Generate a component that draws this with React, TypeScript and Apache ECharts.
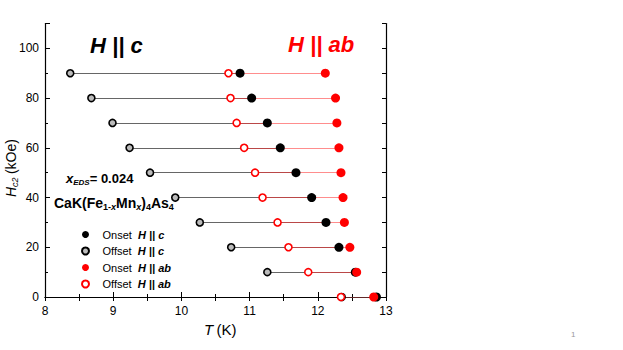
import React, { useEffect, useRef } from "react";
import * as echarts from "echarts";

const fields = [90, 80, 70, 60, 50, 40, 30, 20, 10, 0];
const offsetC = [8.37, 8.68, 8.99, 9.24, 9.54, 9.91, 10.27, 10.73, 11.26, 12.35];
const onsetC = [10.86, 11.03, 11.26, 11.45, 11.68, 11.91, 12.12, 12.31, 12.55, 12.86];
const offsetAB = [10.69, 10.72, 10.81, 10.92, 11.08, 11.19, 11.41, 11.57, 11.86, 12.34];
const onsetAB = [12.11, 12.26, 12.28, 12.31, 12.34, 12.37, 12.39, 12.47, 12.57, 12.82];
const xTicks = [8, 9, 10, 11, 12, 13];
const yTicks = [0, 20, 40, 60, 80, 100];

const FONT = "Liberation Sans, Arial, sans-serif";

export default function App() {
  const ref = useRef<HTMLDivElement>(null);
  useEffect(() => {
    if (!ref.current) return;
    const chart = echarts.init(ref.current, null, { renderer: "svg" });
    const pts = (xs: number[]) => xs.map((x, i) => [x, fields[i]]);
    const segs = (a: number[], b: number[]) =>
      fields.map((h, i) => ({ coords: [[a[i], h], [b[i], h]] }));
    const legendFmt = (name: string) => {
      const [kind, pol] = name.split("|");
      return `{n|${kind}}  {i|H || ${pol}}`;
    };
    chart.setOption({
      animation: false,
      textStyle: { fontFamily: FONT },
      grid: { left: 45, right: 237, top: 23.5, bottom: 53 },
      xAxis: [
        {
          type: "value",
          min: xTicks[0],
          max: xTicks[xTicks.length - 1],
          interval: 1,
          axisLine: { lineStyle: { color: "#000", width: 1.2 } },
          axisTick: { inside: true, length: 5, lineStyle: { color: "#000" } },
          minorTick: { show: true, splitNumber: 2, length: 3, lineStyle: { color: "#000" } },
          axisLabel: { color: "#000", fontSize: 12, fontFamily: FONT, margin: 8 },
          splitLine: { show: false },
        },
        {
          type: "value",
          position: "top",
          min: 8,
          max: 13,
          interval: 0.5,
          axisLine: { show: true, lineStyle: { color: "#000", width: 1.2 } },
          axisTick: { inside: true, length: 4, lineStyle: { color: "#000" } },
          axisLabel: { show: false },
          splitLine: { show: false },
        },
      ],
      yAxis: [
        {
          type: "value",
          min: 0,
          max: 110,
          interval: 20,
          axisLine: { show: true, lineStyle: { color: "#000", width: 1.2 } },
          axisTick: { inside: true, length: 5, lineStyle: { color: "#000" } },
          minorTick: { show: true, splitNumber: 2, length: 3, lineStyle: { color: "#000" } },
          axisLabel: {
            color: "#000",
            fontSize: 12,
            fontFamily: FONT,
            margin: 6,
            formatter: (v: number) => (yTicks.includes(v) ? String(v) : ""),
          },
          splitLine: { show: false },
        },
        {
          type: "value",
          position: "right",
          min: 0,
          max: 110,
          interval: 10,
          axisLine: { show: true, lineStyle: { color: "#000", width: 1.2 } },
          axisTick: { inside: true, length: 4, lineStyle: { color: "#000" } },
          axisLabel: { show: false },
          splitLine: { show: false },
        },
      ],
      legend: {
        orient: "vertical",
        left: 76,
        top: 224,
        itemWidth: 20,
        itemHeight: 7,
        itemGap: 5.5,
        data: ["Onset|c", "Offset|c", "Onset|ab", "Offset|ab"],
        formatter: legendFmt,
        textStyle: {
          fontFamily: FONT,
          fontSize: 11,
          color: "#000",
          padding: [0, 0, 0, 2],
          rich: {
            n: { fontFamily: FONT, fontSize: 11, color: "#000" },
            i: { fontFamily: FONT, fontSize: 11, color: "#000", fontStyle: "italic", fontWeight: "bold" },
          },
        },
      },
      series: [
        {
          type: "lines",
          coordinateSystem: "cartesian2d",
          data: segs(offsetC, onsetC),
          lineStyle: { color: "#555", width: 1, opacity: 0.9 },
          silent: true,
          z: 1,
        },
        {
          type: "lines",
          coordinateSystem: "cartesian2d",
          data: segs(offsetAB, onsetAB),
          lineStyle: { color: "#ff3030", width: 1, opacity: 0.55 },
          silent: true,
          z: 2,
        },
        {
          name: "Offset|c",
          type: "scatter",
          data: pts(offsetC),
          symbol: "circle",
          symbolSize: 7,
          clip: false,
          itemStyle: { color: "#bbb", borderColor: "#000", borderWidth: 1.6, opacity: 1 },
          z: 3,
        },
        {
          name: "Onset|c",
          type: "scatter",
          data: pts(onsetC),
          symbol: "circle",
          symbolSize: 9,
          clip: false,
          itemStyle: { color: "#000", opacity: 1 },
          z: 3,
        },
        {
          name: "Offset|ab",
          type: "scatter",
          data: pts(offsetAB),
          symbol: "circle",
          symbolSize: 7,
          clip: false,
          itemStyle: { color: "#fff", borderColor: "#ff0000", borderWidth: 1.6, opacity: 1 },
          z: 4,
        },
        {
          name: "Onset|ab",
          type: "scatter",
          data: pts(onsetAB),
          symbol: "circle",
          symbolSize: 9,
          clip: false,
          itemStyle: { color: "#ff0000", opacity: 1 },
          z: 4,
        },
      ],
      graphic: [
        {
          type: "text",
          left: 90,
          top: 34,
          style: { text: "H || c", font: `italic bold 22px ${FONT}`, fill: "#000" },
        },
        {
          type: "text",
          left: 288,
          top: 33,
          style: { text: "H || ab", font: `italic bold 22px ${FONT}`, fill: "#ff0000" },
        },
        {
          type: "text",
          left: 66,
          top: 172,
          style: {
            text: "{x|x}{s|EDS}{b|= 0.024}",
            rich: {
              x: { font: `italic bold 13px ${FONT}`, fill: "#000" },
              s: { font: `italic bold 8px ${FONT}`, fill: "#000", padding: [7, 0, 0, 0] },
              b: { font: `bold 13px ${FONT}`, fill: "#000" },
            },
          },
        },
        {
          type: "text",
          left: 54,
          top: 196,
          style: {
            text: "{b|CaK(Fe}{s|1-}{si|x}{b|Mn}{si|x}{b|)}{s|4}{b|As}{s|4}",
            rich: {
              b: { font: `bold 14px ${FONT}`, fill: "#000" },
              s: { font: `bold 9px ${FONT}`, fill: "#000", padding: [8, 0, 0, 0] },
              si: { font: `italic bold 9px ${FONT}`, fill: "#000", padding: [8, 0, 0, 0] },
            },
          },
        },
        {
          type: "text",
          x: 204,
          y: 322,
          style: {
            text: "{i|T} {n|(K)}",
            rich: {
              i: { font: `italic 15px ${FONT}`, fill: "#000" },
              n: { font: `15px ${FONT}`, fill: "#000" },
            },
          },
        },
        {
          type: "text",
          x: 2,
          y: 197,
          rotation: Math.PI / 2,
          style: {
            text: "{i|H}{s|c2} {n|(kOe)}",
            rich: {
              i: { font: `italic 14px ${FONT}`, fill: "#000" },
              s: { font: `italic 9px ${FONT}`, fill: "#000", padding: [8, 0, 0, 0] },
              n: { font: `14px ${FONT}`, fill: "#000" },
            },
          },
        },
        {
          type: "text",
          x: 571,
          y: 330,
          style: { text: "1", font: `8px ${FONT}`, fill: "#999" },
        },
      ],
    });
    return () => chart.dispose();
  }, []);
  return (
    <div
      ref={ref}
      style={{ position: "fixed", left: 0, top: 0, width: 623, height: 350, background: "#fff" }}
    />
  );
}
